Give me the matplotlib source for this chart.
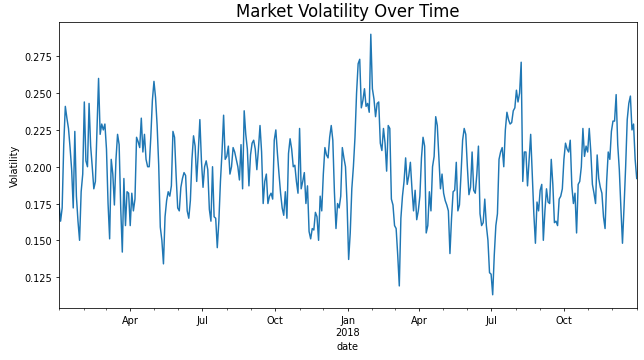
import pandas as pd
import matplotlib
matplotlib.use("Agg")
import matplotlib.pyplot as plt
import matplotlib.dates as mdates

# volatility, one value every 2 days from 2017-01-01
jan_apr_2017 = [0.175, 0.163, 0.172, 0.215, 0.241, 0.233, 0.226, 0.213, 0.198, 0.172,
                0.224, 0.180, 0.163, 0.150, 0.183, 0.195, 0.244, 0.204, 0.200, 0.243,
                0.214, 0.200, 0.185, 0.190, 0.226, 0.260, 0.222, 0.229, 0.225, 0.229,
                0.212, 0.175, 0.151, 0.205, 0.195, 0.174, 0.205, 0.222, 0.215, 0.172,
                0.142, 0.192, 0.160, 0.183, 0.182, 0.160, 0.182, 0.170, 0.178]
apr_jul_2017 = [0.220, 0.217, 0.213, 0.233, 0.210, 0.222, 0.205, 0.200, 0.200, 0.220,
                0.245, 0.258, 0.247, 0.228, 0.201, 0.159, 0.150, 0.134, 0.166, 0.177,
                0.183, 0.180, 0.187, 0.224, 0.220, 0.194, 0.172, 0.170, 0.186, 0.192,
                0.196, 0.194, 0.170, 0.165, 0.177, 0.205, 0.221, 0.214, 0.190, 0.210,
                0.232, 0.204, 0.186, 0.200, 0.204, 0.198, 0.171]
jul_oct_2017 = [0.163, 0.200, 0.166, 0.165, 0.145, 0.163, 0.190, 0.210, 0.235, 0.205,
                0.207, 0.214, 0.195, 0.200, 0.213, 0.210, 0.205, 0.200, 0.191, 0.215,
                0.185, 0.238, 0.222, 0.212, 0.187, 0.208, 0.216, 0.218, 0.212, 0.198,
                0.212, 0.228, 0.210, 0.175, 0.190, 0.195, 0.175, 0.180, 0.182, 0.178,
                0.218, 0.225, 0.209, 0.195]
oct_jan_2018 = [0.182, 0.172, 0.167, 0.183, 0.165, 0.209, 0.219, 0.212, 0.200, 0.201,
                0.190, 0.182, 0.226, 0.185, 0.190, 0.196, 0.175, 0.187, 0.156, 0.151,
                0.158, 0.157, 0.169, 0.166, 0.150, 0.180, 0.170, 0.195, 0.213, 0.208,
                0.206, 0.220, 0.228, 0.218, 0.183, 0.158, 0.175, 0.172, 0.180, 0.213,
                0.206, 0.200, 0.175, 0.137, 0.155, 0.185]
jan_apr_2018 = [0.200, 0.220, 0.250, 0.270, 0.273, 0.240, 0.245, 0.253, 0.241, 0.243,
                0.237, 0.290, 0.253, 0.246, 0.234, 0.243, 0.244, 0.216, 0.211, 0.226,
                0.216, 0.197, 0.228, 0.226, 0.178, 0.174, 0.160, 0.158, 0.140, 0.119,
                0.165, 0.180, 0.190, 0.206, 0.188, 0.194, 0.203, 0.185, 0.170, 0.184,
                0.164, 0.170, 0.180, 0.206, 0.220, 0.214]
apr_jul_2018 = [0.155, 0.160, 0.183, 0.170, 0.200, 0.207, 0.234, 0.228, 0.206, 0.185,
                0.195, 0.182, 0.177, 0.174, 0.170, 0.141, 0.165, 0.183, 0.184, 0.203,
                0.170, 0.174, 0.195, 0.218, 0.226, 0.222, 0.200, 0.181, 0.186, 0.210,
                0.184, 0.182, 0.195, 0.214, 0.168, 0.160, 0.162, 0.178, 0.160, 0.150,
                0.128, 0.127, 0.113, 0.140, 0.160, 0.168]
jul_oct_2018 = [0.205, 0.210, 0.213, 0.200, 0.225, 0.237, 0.232, 0.229, 0.230, 0.238,
                0.240, 0.252, 0.244, 0.250, 0.271, 0.190, 0.210, 0.210, 0.187, 0.205,
                0.222, 0.195, 0.168, 0.148, 0.176, 0.170, 0.184, 0.188, 0.150, 0.170,
                0.185, 0.176, 0.175, 0.205, 0.188, 0.162, 0.163, 0.160, 0.178, 0.180,
                0.185, 0.205, 0.216, 0.212, 0.210, 0.218]
oct_dec_2018 = [0.187, 0.175, 0.182, 0.155, 0.188, 0.190, 0.200, 0.226, 0.207, 0.214,
                0.210, 0.226, 0.210, 0.188, 0.182, 0.175, 0.208, 0.192, 0.186, 0.182,
                0.166, 0.158, 0.190, 0.210, 0.205, 0.224, 0.231, 0.231, 0.249, 0.215,
                0.198, 0.172, 0.148, 0.173, 0.200, 0.232, 0.243, 0.248, 0.225, 0.229,
                0.205, 0.192]

volatility = (jan_apr_2017 + apr_jul_2017 + jul_oct_2017 + oct_jan_2018 +
              jan_apr_2018 + apr_jul_2018 + jul_oct_2018 + oct_dec_2018)
dates = pd.date_range("2017-01-01", periods=len(volatility), freq="2D")

major_dates = pd.to_datetime(["2017-04-01", "2017-07-01", "2017-10-01", "2018-01-01",
                              "2018-04-01", "2018-07-01", "2018-10-01"])
major_labels = ["Apr", "Jul", "Oct", "Jan\n2018", "Apr", "Jul", "Oct"]

# drawn at 70 dpi so the default fonts come out small, like the reference
fig = plt.figure(figsize=(9.2, 5.157), dpi=70)
ax = fig.add_axes([0.0916, 0.1432, 0.8971, 0.7938])
ax.plot(dates, volatility, color="#1f77b4", linewidth=1.5)

ax.set_xlim(dates[0], dates[-1])
ax.set_ylim(0.1038, 0.2985)
ax.xaxis.set_major_locator(plt.FixedLocator(mdates.date2num(major_dates)))
ax.xaxis.set_major_formatter(plt.FixedFormatter(major_labels))
ax.xaxis.set_minor_locator(mdates.MonthLocator())

ax.set_title("Market Volatility Over Time", fontsize=17)
ax.set_xlabel("date")
ax.set_ylabel("Volatility")

fig.savefig("out.png", dpi=70)
